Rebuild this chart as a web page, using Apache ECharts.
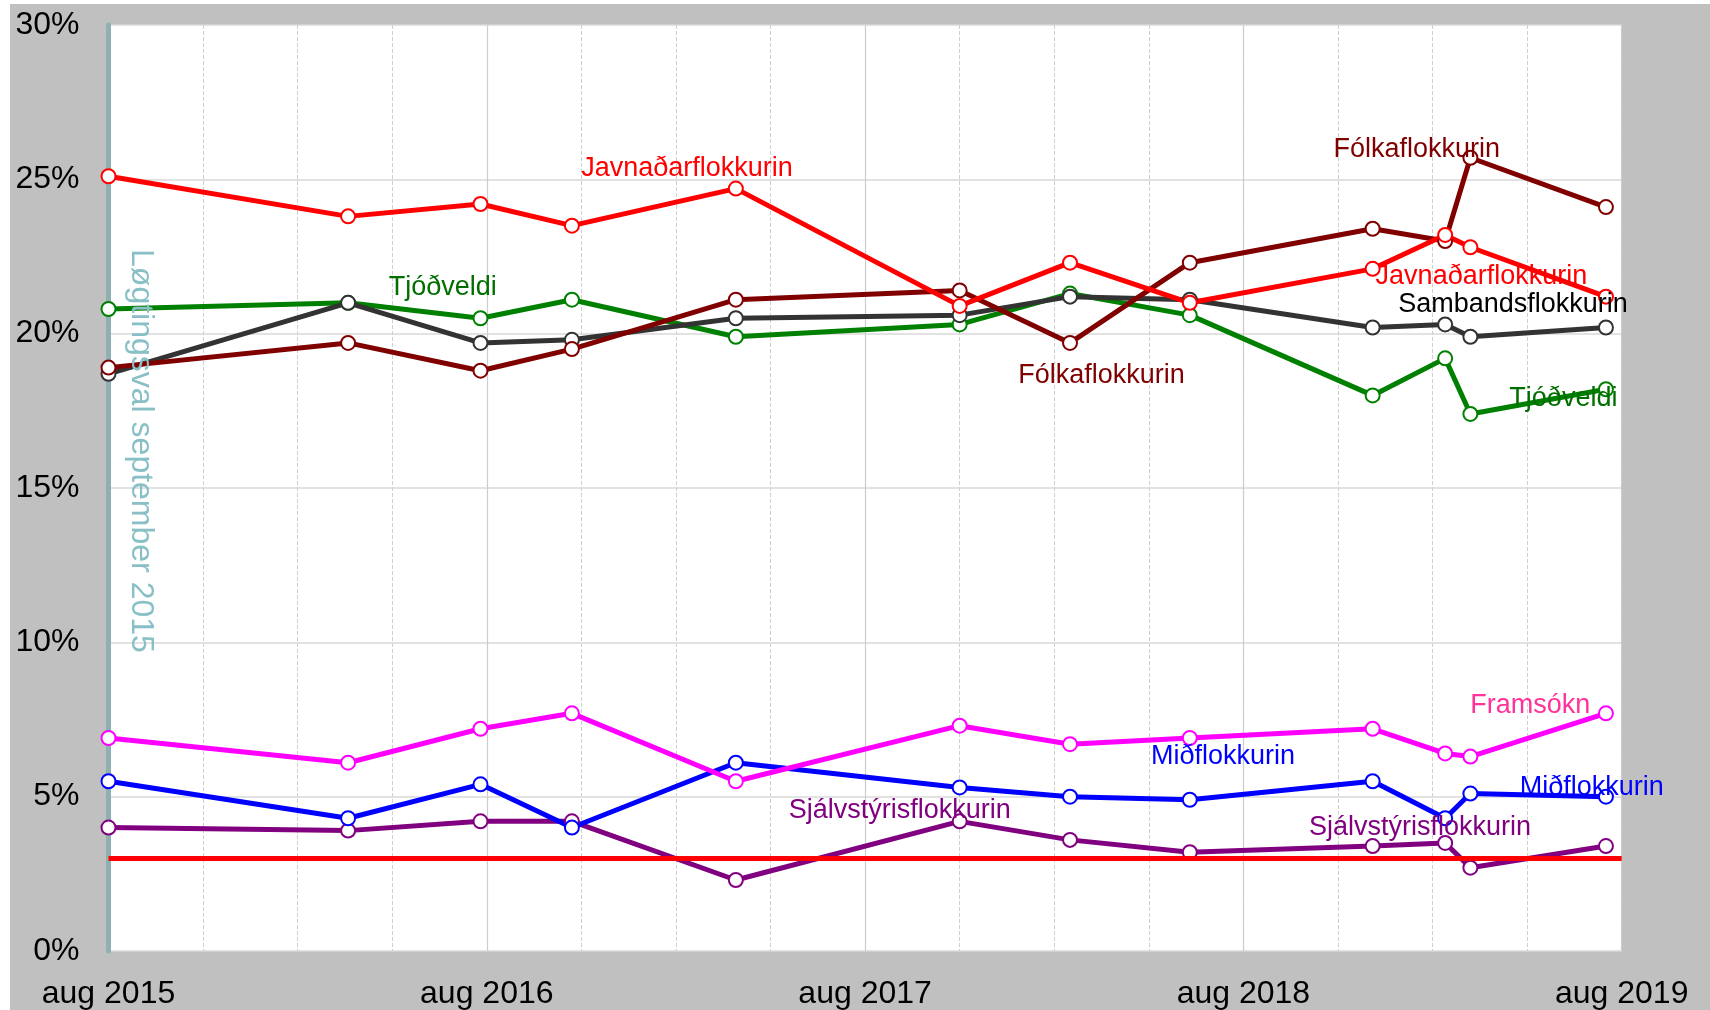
<!DOCTYPE html>
<html>
<head>
<meta charset="utf-8">
<script src="https://cdn.jsdelivr.net/npm/echarts@6/dist/echarts.min.js"></script>
<style>
  html, body { margin: 0; padding: 0; background: #fff; }
  #chart { position: absolute; left: 10px; top: 4px; width: 1700px; height: 1006px; }
</style>
</head>
<body>
<div id="chart"></div>
<script>
// poll dates, as months after aug 2015
const months = [0, 7.6, 11.8, 14.7, 19.9, 27.0, 30.5, 34.3, 40.1, 42.4, 43.2, 47.5];

// % per party
const tjodveldi      = [20.8, 21.0, 20.5, 21.1, 19.9, 20.3, 21.3, 20.6, 18.0, 19.2, 17.4, 18.2];
const sambands       = [18.7, 21.0, 19.7, 19.8, 20.5, 20.6, 21.2, 21.1, 20.2, 20.3, 19.9, 20.2];
const folka          = [18.9, 19.7, 18.8, 19.5, 21.1, 21.4, 19.7, 22.3, 23.4, 23.0, 25.7, 24.1];
const javnadar       = [25.1, 23.8, 24.2, 23.5, 24.7, 20.9, 22.3, 21.0, 22.1, 23.2, 22.8, 21.2];
const sjalvstyri     = [4.0, 3.9, 4.2, 4.2, 2.3, 4.2, 3.6, 3.2, 3.4, 3.5, 2.7, 3.4];
const midflokkurin   = [5.5, 4.3, 5.4, 4.0, 6.1, 5.3, 5.0, 4.9, 5.5, 4.3, 5.1, 5.0];
const framsokn       = [6.9, 6.1, 7.2, 7.7, 5.5, 7.3, 6.7, 6.9, 7.2, 6.4, 6.3, 7.7];

const threshold = 3;
const yearLabels = ['aug 2015', 'aug 2016', 'aug 2017', 'aug 2018', 'aug 2019'];

// where the party names sit, in [month, %]
const nameSpots = {
  'Tjóðveldi': [[10.6, 21.5], [46.15, 17.9]],
  'Sambandsflokkurin': [[44.55, 20.95]],
  'Fólkaflokkurin': [[31.5, 18.65], [41.5, 25.95]],
  'Javnaðarflokkurin': [[18.35, 25.35], [43.55, 21.85]],
  'Sjálvstýrisflokkurin': [[25.1, 4.55], [41.6, 4.0]],
  'Miðflokkurin': [[35.35, 6.3], [47.05, 5.3]],
  'Framsókn': [[45.1, 7.95]]
};

const FONT = 'Liberation Sans, Arial, sans-serif';

const parties = [
  { name: 'Tjóðveldi', data: tjodveldi, color: '#008000', text: '#006f00' },
  { name: 'Sambandsflokkurin', data: sambands, color: '#333333', text: '#000000' },
  { name: 'Fólkaflokkurin', data: folka, color: '#800000', text: '#800000' },
  { name: 'Javnaðarflokkurin', data: javnadar, color: '#ff0000', text: '#ff0000' },
  { name: 'Sjálvstýrisflokkurin', data: sjalvstyri, color: '#800080', text: '#800080' },
  { name: 'Miðflokkurin', data: midflokkurin, color: '#0000ff', text: '#0000ff' },
  { name: 'Framsókn', data: framsokn, color: '#ff00ff', text: '#ff3399' }
];

const myChart = echarts.init(document.getElementById('chart'));

const series = parties.map(function (p) {
  return {
    name: p.name,
    type: 'line',
    data: months.map(function (m, i) { return [m, p.data[i]]; }),
    symbol: 'circle',
    symbolSize: 14,
    showAllSymbol: true,
    lineStyle: { color: p.color, width: 5 },
    itemStyle: { color: '#fff', borderColor: p.color, borderWidth: 2 },
    emphasis: { disabled: true },
    markPoint: {
      silent: true,
      symbol: 'circle',
      symbolSize: 0,
      label: {
        show: true,
        position: 'inside',
        formatter: p.name,
        color: p.text,
        fontFamily: FONT,
        fontSize: 27
      },
      data: nameSpots[p.name].map(function (c) { return { coord: c }; })
    }
  };
});

// threshold line + election line text
series.push({
  type: 'line',
  data: [],
  markLine: {
    silent: true,
    symbol: 'none',
    label: { show: false },
    lineStyle: { color: '#ff0000', width: 5, type: 'solid' },
    data: [{ yAxis: threshold }]
  },
  markPoint: {
    silent: true,
    symbol: 'circle',
    symbolSize: 0,
    label: {
      show: true,
      position: 'inside',
      formatter: 'Løgtingsval september 2015',
      color: '#88c0c6',
      fontFamily: FONT,
      fontSize: 32,
      rotate: -90
    },
    data: [{ coord: [1.03, 16.2] }]
  }
});

const option = {
  backgroundColor: '#c0c0c0',
  animation: false,
  grid: {
    left: 98.5,
    right: 88.3,
    top: 21,
    bottom: 59,
    show: true,
    backgroundColor: '#ffffff',
    borderWidth: 0
  },
  xAxis: [
    {
      type: 'value',
      min: 0,
      max: 48,
      interval: 12,
      axisLine: { show: false },
      axisTick: { show: false },
      axisLabel: {
        margin: 27,
        color: '#000',
        fontFamily: FONT,
        fontSize: 32,
        formatter: function (v) { return yearLabels[v / 12]; }
      },
      splitLine: { show: true, lineStyle: { color: '#c8c8c8', width: 1.2 } }
    },
    {
      type: 'value',
      min: 0,
      max: 48,
      interval: 3,
      axisLine: { show: false },
      axisTick: { show: false },
      axisLabel: { show: false },
      splitLine: { show: true, lineStyle: { color: '#cfcfcf', width: 1, type: 'dashed' } }
    }
  ],
  yAxis: {
    type: 'value',
    min: 0,
    max: 30,
    interval: 5,
    axisLine: { show: true, lineStyle: { color: '#8fb0b3', width: 5 } },
    axisTick: { show: false },
    axisLabel: {
      margin: 29,
      color: '#000',
      fontFamily: FONT,
      fontSize: 32,
      formatter: '{value}%'
    },
    splitLine: { show: true, lineStyle: { color: '#d9d9d9', width: 1.5 } }
  },
  series: series
};

myChart.setOption(option);
</script>
</body>
</html>
